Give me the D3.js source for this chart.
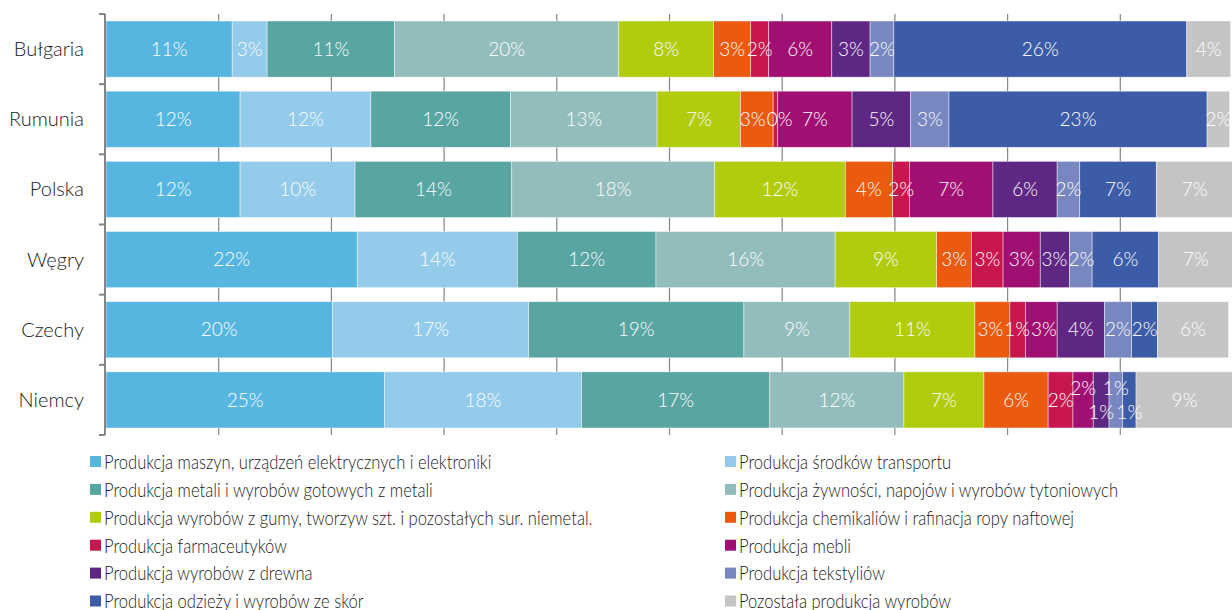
<!DOCTYPE html>
<html>
<head>
<meta charset="utf-8">
<script src="https://cdn.jsdelivr.net/npm/d3@7"></script>
<style>
  html, body { margin: 0; padding: 0; background: #fff; }
  svg { display: block; }
  text { font-family: Lato, "Open Sans", sans-serif; font-weight: 300; }
</style>
</head>
<body>
<svg id="chart" width="1232" height="610"></svg>
<script>
// Struktura produkcji przemysłowej według działów (% udziału)
const countries = ["Bułgaria", "Rumunia", "Polska", "Węgry", "Czechy", "Niemcy"];

const sectors = [
  "Produkcja maszyn, urządzeń elektrycznych i elektroniki",
  "Produkcja środków transportu",
  "Produkcja metali i wyrobów gotowych z metali",
  "Produkcja żywności, napojów i wyrobów tytoniowych",
  "Produkcja wyrobów z gumy, tworzyw szt. i pozostałych sur. niemetal.",
  "Produkcja chemikaliów i rafinacja ropy naftowej",
  "Produkcja farmaceutyków",
  "Produkcja mebli",
  "Produkcja wyrobów z drewna",
  "Produkcja tekstyliów",
  "Produkcja odzieży i wyrobów ze skór",
  "Pozostała produkcja wyrobów"
];

const sectorColors = [
  "#56b6e0", "#94cbea", "#58a5a2", "#93bdbc", "#b1cb0d", "#eb5b0f",
  "#c8174e", "#a01073", "#5f2784", "#7887c0", "#3d5ca8", "#c4c4c4"
];

// udziały w kolejności sektorów
const bulgaria = [11.2, 3.1, 11.3, 19.9, 8.4, 3.3, 1.6, 5.6, 3.4, 2.1, 26.0, 3.9];
const rumunia  = [11.9, 11.6, 12.4, 13.0, 7.4, 2.9, 0.4, 6.6, 5.2, 3.4, 22.9, 2.0];
const polska   = [11.9, 10.2, 13.9, 18.0, 11.6, 4.2, 1.5, 7.4, 5.7, 2.0, 6.8, 6.8];
const wegry    = [22.3, 14.2, 12.3, 15.9, 9.0, 3.1, 2.8, 3.3, 2.6, 2.0, 5.9, 6.6];
const czechy   = [20.1, 17.4, 19.1, 9.4, 11.1, 3.1, 1.4, 2.8, 4.2, 2.4, 2.3, 6.3];
const niemcy   = [24.7, 17.5, 16.7, 11.9, 7.1, 5.7, 2.2, 1.8, 1.4, 1.2, 1.2, 8.6];

const shares = [bulgaria, rumunia, polska, wegry, czechy, niemcy];

const gridTicks = [10, 20, 30, 40, 50, 60, 70, 80, 90, 100];

const svg = d3.select("#chart");

const x = d3.scaleLinear().domain([0, 100]).range([106, 1233]);
const y = d3.scaleBand().domain(countries).range([14, 435])
  .paddingInner(0.2).paddingOuter(0.1);

// pionowe linie siatki
svg.append("g")
  .selectAll("line")
  .data(gridTicks)
  .join("line")
  .attr("x1", d => x(d)).attr("x2", d => x(d))
  .attr("y1", 14).attr("y2", 435)
  .attr("stroke", "#858585").attr("stroke-width", 1.2);

// segmenty słupków
const rows = countries.map((c, i) => {
  let acc = 0;
  return shares[i].map((v, j) => {
    const seg = { country: c, sector: j, value: v, x0: acc, x1: acc + v };
    acc += v;
    return seg;
  });
});

const rowG = svg.append("g")
  .selectAll("g")
  .data(rows)
  .join("g");

rowG.selectAll("rect")
  .data(d => d)
  .join("rect")
  .attr("x", d => x(d.x0))
  .attr("width", d => x(d.x1) - x(d.x0))
  .attr("y", d => y(d.country))
  .attr("height", y.bandwidth())
  .attr("fill", d => sectorColors[d.sector])
  .attr("stroke", "#ffffff")
  .attr("stroke-opacity", 0.55)
  .attr("stroke-width", 0.8);

// przy serii kilku wąskich segmentów etykiety naprzemiennie wyżej/niżej
function labelOffsets(row) {
  const narrow = row.map(d => x(d.x1) - x(d.x0) < 21);
  const offs = row.map(() => 0);
  let i = 0;
  while (i < row.length) {
    if (narrow[i]) {
      let j = i;
      while (j < row.length && narrow[j]) j++;
      if (j - i >= 3) {
        for (let k = i; k < j; k++) offs[k] = (k - i) % 2 === 0 ? -12 : 12;
      }
      i = j;
    } else i++;
  }
  return offs;
}

rowG.each(function(row) {
  const offs = labelOffsets(row);
  const labels = d3.select(this).selectAll("text")
    .data(row)
    .join("text")
    .attr("y", (d, i) => y(d.country) + y.bandwidth() / 2 + offs[i])
    .attr("dy", "0.35em")
    .attr("text-anchor", "middle")
    .attr("fill", "#ffffff")
    .attr("font-size", 19)
    .text(d => Math.round(d.value) + "%");

  // rozsunięcie nachodzących na siebie etykiet w tym samym rzędzie
  const items = row.map((d, i) => ({
    cx: (x(d.x0) + x(d.x1)) / 2,
    w: labels.nodes()[i].getComputedTextLength(),
    level: offs[i]
  }));
  for (let iter = 0; iter < 30; iter++) {
    for (let i = 0; i < items.length - 1; i++) {
      const a = items[i], b = items[i + 1];
      if (a.level !== b.level) continue;
      const overlap = (a.cx + a.w / 2) - (b.cx - b.w / 2) + 1;
      if (overlap > 0) { a.cx -= overlap / 2; b.cx += overlap / 2; }
    }
  }
  labels.attr("x", (d, i) => items[i].cx);
});

// oś kategorii
const yAxis = svg.append("g")
  .attr("transform", "translate(105,0)");
yAxis.append("line")
  .attr("x1", 0).attr("x2", 0).attr("y1", 14).attr("y2", 435)
  .attr("stroke", "#858585").attr("stroke-width", 2);
const bounds = countries.map(c => y(c) - y.step() * y.paddingInner() / 2);
bounds.push(435);
bounds[0] = 14;
yAxis.selectAll(".tick")
  .data(bounds)
  .join("line")
  .attr("x1", -6).attr("x2", 0)
  .attr("y1", d => d).attr("y2", d => d)
  .attr("stroke", "#858585").attr("stroke-width", 2);

svg.append("g")
  .selectAll("text")
  .data(countries)
  .join("text")
  .attr("x", 84)
  .attr("y", d => y(d) + y.bandwidth() / 2)
  .attr("dy", "0.35em")
  .attr("text-anchor", "end")
  .attr("fill", "#1a1a1a")
  .attr("font-size", 20)
  .attr("font-weight", 400)
  .text(d => d);

// legenda w dwóch kolumnach
const legend = svg.append("g")
  .selectAll("g")
  .data(sectors)
  .join("g")
  .attr("transform", (d, i) => `translate(${i % 2 === 0 ? 90 : 725},${462 + Math.floor(i / 2) * 27.9})`);

legend.append("rect")
  .attr("x", 0).attr("y", -6)
  .attr("width", 11).attr("height", 11)
  .attr("fill", (d, i) => sectorColors[i]);

legend.append("text")
  .attr("transform", "translate(14,0) scale(0.85,1)")
  .attr("dy", "0.35em")
  .attr("fill", "#1a1a1a")
  .attr("font-size", 19.5)
  .attr("font-weight", 400)
  .text(d => d);
</script>
</body>
</html>
